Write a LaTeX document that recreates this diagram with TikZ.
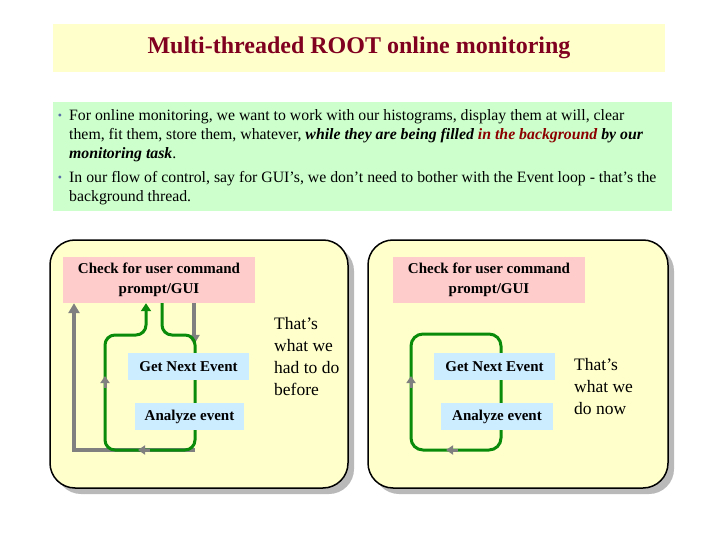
\documentclass[tikz,border=0pt]{standalone}
\usepackage{fontspec}
\setmainfont{Liberation Serif}
\usepackage{tikz}
\usetikzlibrary{positioning,arrows.meta}
\definecolor{paleyellow}{RGB}{255,255,204}
\definecolor{palegreen}{RGB}{204,255,204}
\definecolor{titlered}{RGB}{128,0,32}
\definecolor{bgred}{RGB}{140,0,0}
\definecolor{cmdpink}{RGB}{255,204,204}
\definecolor{evtblue}{RGB}{204,236,255}
\definecolor{loopgreen}{RGB}{10,140,10}
\definecolor{dotblue}{RGB}{90,110,170}
\newcommand{\monred}[1]{\textcolor{bgred}{#1}}
\newcommand{\monbi}[1]{\textbf{\textit{#1}}}
\pgfdeclarelayer{panels}
\pgfdeclarelayer{flows}
\pgfsetlayers{panels,flows,main}
\tikzset{
  panel/.style={draw=black,line width=1.5pt,fill=paleyellow,rounded corners=25pt},
  cmdbox/.style={fill=cmdpink,minimum width=192pt,minimum height=46pt,align=center,
    font=\fontsize{15}{20}\selectfont\bfseries},
  evtbox/.style={fill=evtblue,minimum height=27pt,inner sep=0pt,
    font=\fontsize{15}{18}\selectfont\bfseries},
  notetext/.style={anchor=base west,align=left,inner sep=0pt,
    font=\fontsize{15.8}{19}\selectfont},
  notedot/.style={text=dotblue,inner sep=0pt,font=\fontsize{12}{12}\selectfont},
  sidenote/.style={anchor=north west,align=left,inner sep=0pt,
    font=\fontsize{17.5}{22}\selectfont},
  greenloop/.style={draw=loopgreen,line width=3pt,rounded corners=10pt},
  grayflow/.style={draw=gray,line width=4pt,-{Triangle[length=10pt,width=11pt]}},
  graytip/.style={draw=gray,line width=3pt,-{Triangle[length=7pt,width=9pt]}}
}

\begin{document}
\begin{tikzpicture}[x=1pt,y=-1pt]
\useasboundingbox (0,0) rectangle (720,540);
% heading and notes
\node[fill=paleyellow,minimum width=612pt,minimum height=48pt] (title) at (359,48)
  {\fontsize{24}{28}\selectfont\bfseries\textcolor{titlered}{Multi-threaded ROOT online monitoring}};
\node[fill=palegreen,minimum width=619pt,minimum height=109pt] (notes) at (362.5,156.5) {};
\node[notedot] (dot1) at (60,117) {\textbullet};
% base of a multi-line node is its last line
\node[notetext] (item1) at (69,159)
  {For online monitoring, we want to work with our histograms, display them at will, clear\\
   them, fit them, store them, whatever, \monbi{while they are being filled \monred{in the background} by our}\\
   \monbi{monitoring task}.};
\node[notedot] (dot2) at (60,179) {\textbullet};
\node[notetext] (item2) at (69,202)
  {In our flow of control, say for GUI's, we don't need to bother with the Event loop - that's the\\
   background thread.};
\begin{pgfonlayer}{panels}
  \fill[gray!55,rounded corners=25pt] (56,246) rectangle (354,494);
  \draw[panel] (50,240) rectangle (348,488);
  \fill[gray!55,rounded corners=25pt] (374,246) rectangle (674,494);
  \draw[panel] (368,240) rectangle (668,488);
\end{pgfonlayer}
% before: one loop does everything
\node[cmdbox] (cmdL) at (159,280) {Check for user command\\prompt/GUI};
\node[evtbox,minimum width=121pt] (nextL) at (188.5,366.5) {Get Next Event};
\node[evtbox,minimum width=109pt] (anaL) at (189.5,416.5) {Analyze event};
\node[sidenote] (beforeL) at (274,317) {That's\\what we\\had to do\\before};
% now: event loop runs on its own
\node[cmdbox] (cmdR) at (489,280) {Check for user command\\prompt/GUI};
\node[evtbox,minimum width=121pt] (nextR) at (494.5,366.5) {Get Next Event};
\node[evtbox,minimum width=112pt] (anaR) at (497,416.5) {Analyze event};
\node[sidenote] (nowR) at (574,358) {That's\\what we\\do now};
\begin{pgfonlayer}{flows}
  \draw[grayflow] ([xshift=35pt]cmdL.south) -- ([xshift=5.5pt,yshift=8pt]nextL.north);
  \draw[grayflow] (195,450) -- (74,450) -- ([xshift=-85pt]cmdL.south);
  \draw[greenloop,-{Triangle[length=8pt,width=10pt]}] ([xshift=3pt]cmdL.south) -- (162,335)
    -- (195,335) -- (195,450) -- (105,450) -- (105,335) -- (146,335) -- ([xshift=-13pt]cmdL.south);
  \draw[graytip] (105,388) -- (105,376);
  \draw[graytip] (150,450) -- (138,450);
  \draw[greenloop,rounded corners=12pt] (411,334) rectangle (501,450);
  \draw[graytip] (411,388) -- (411,376);
  \draw[graytip] (458,450) -- (446,450);
\end{pgfonlayer}
\end{tikzpicture}
\end{document}
